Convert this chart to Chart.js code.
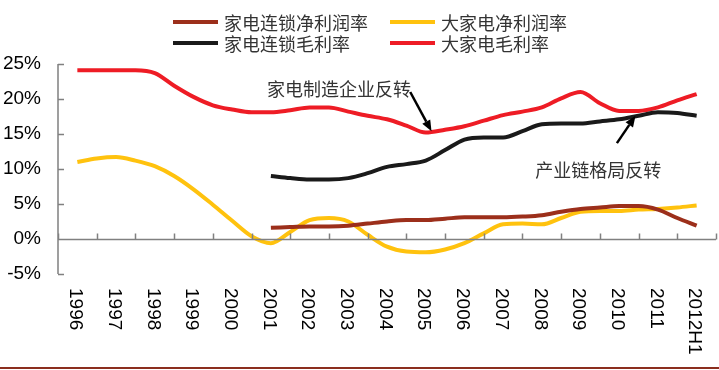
<!DOCTYPE html>
<html>
<head>
<meta charset="utf-8">
<script src="https://cdn.jsdelivr.net/npm/chart.js@4.4.1/dist/chart.umd.min.js"></script>
<style>
  html, body { margin: 0; padding: 0; background: #fff; }
  #wrap { width: 719px; height: 370px; position: relative; }
</style>
</head>
<body>
<div id="wrap"><canvas id="marginChart" width="719" height="370"></canvas></div>
<script>
// half-year periods, 1996 .. 2012H1
const periods = [1996, 1996.5, 1997, 1997.5, 1998, 1998.5, 1999, 1999.5, 2000, 2000.5,
    2001, 2001.5, 2002, 2002.5, 2003, 2003.5, 2004, 2004.5, 2005, 2005.5, 2006, 2006.5,
    2007, 2007.5, 2008, 2008.5, 2009, 2009.5, 2010, 2010.5, 2011, 2011.5, 2012];

const yearLabels = ['1996', '1997', '1998', '1999', '2000', '2001', '2002', '2003', '2004',
    '2005', '2006', '2007', '2008', '2009', '2010', '2011', '2012H1'];

// 家电连锁净利润率
const chainNet = [null, null, null, null, null, null, null, null, null, null,
    1.6, 1.7, 1.8, 1.8, 1.9, 2.2, 2.5, 2.7, 2.7, 2.9, 3.1, 3.1,
    3.1, 3.2, 3.4, 3.9, 4.3, 4.5, 4.7, 4.7, 4.2, 3.0, 1.9];
// 大家电净利润率
const applianceNet = [11.0, 11.5, 11.7, 11.2, 10.4, 9.0, 7.1, 4.9, 2.6, 0.4,
    -0.6, 1.0, 2.7, 3.0, 2.5, 0.6, -1.1, -1.8, -1.9, -1.5, -0.6, 0.8,
    2.1, 2.2, 2.1, 3.0, 3.9, 4.0, 4.0, 4.2, 4.3, 4.5, 4.8];
// 家电连锁毛利率
const chainGross = [null, null, null, null, null, null, null, null, null, null,
    9.0, 8.7, 8.5, 8.5, 8.7, 9.4, 10.3, 10.7, 11.2, 12.7, 14.2, 14.5,
    14.5, 15.4, 16.4, 16.5, 16.5, 16.8, 17.1, 17.6, 18.1, 18.0, 17.6];
// 大家电毛利率
const applianceGross = [24.1, 24.1, 24.1, 24.1, 23.7, 21.9, 20.3, 19.1, 18.5, 18.1,
    18.1, 18.4, 18.8, 18.8, 18.2, 17.6, 17.1, 16.2, 15.2, 15.6, 16.1, 16.9,
    17.7, 18.2, 18.8, 20.1, 21.0, 19.4, 18.3, 18.3, 18.8, 19.8, 20.7];

// callouts, in data coordinates (year, %)
const notes = [
    { text: '家电制造企业反转', at: [2000.9, 21.4], from: [2004.6, 21.0], to: [2005.15, 15.4] },
    { text: '产业链格局反转', at: [2007.83, 9.9], from: [2009.94, 13.7], to: [2010.42, 17.6] }
];

const toPoints = arr => periods.map((p, i) => ({ x: p, y: arr[i] }));

const cjkFont = '"Noto Sans CJK SC", "Noto Sans", sans-serif';
const numFont = '"Liberation Sans", Arial, sans-serif';
const axisColor = '#808080';

function series(label, values, color) {
    return {
        label: label,
        data: toPoints(values),
        borderColor: color,
        backgroundColor: color,
        borderWidth: 4,
        pointRadius: 0,
        fill: false,
        spanGaps: false,
        cubicInterpolationMode: 'monotone'
    };
}

const decorations = {
    id: 'decorations',
    afterDraw(chart) {
        const ctx = chart.ctx;
        const x = chart.scales.x, y = chart.scales.y;
        const area = chart.chartArea;
        ctx.save();

        // y axis + inward ticks
        ctx.strokeStyle = axisColor;
        ctx.lineWidth = 1.5;
        ctx.beginPath();
        ctx.moveTo(area.left, y.getPixelForValue(25));
        ctx.lineTo(area.left, y.getPixelForValue(-5));
        y.ticks.forEach(t => {
            const py = Math.round(y.getPixelForValue(t.value)) + 0.5;
            ctx.moveTo(area.left, py);
            ctx.lineTo(area.left + 6, py);
        });
        // x axis at 0% + inward ticks between years
        const y0 = Math.round(y.getPixelForValue(0)) + 0.5;
        ctx.moveTo(area.left, y0);
        ctx.lineTo(area.right, y0);
        for (let i = 0; i <= yearLabels.length; i++) {
            const px = Math.round(x.getPixelForValue(1995.5 + i)) + 0.5;
            ctx.moveTo(px, y0);
            ctx.lineTo(px, y0 - 6);
        }
        ctx.stroke();

        // rotated year labels, reading downward
        ctx.fillStyle = '#000';
        ctx.font = '19px ' + numFont;
        ctx.textAlign = 'left';
        ctx.textBaseline = 'middle';
        yearLabels.forEach((lab, i) => {
            ctx.save();
            ctx.translate(x.getPixelForValue(1996 + i) - 2, 288);
            ctx.rotate(Math.PI / 2);
            ctx.fillText(lab, 0, 0);
            ctx.restore();
        });

        // legend, 2 x 2
        const order = [0, 1, 2, 3];
        const colX = [173, 390], rowY = [22, 43];
        ctx.font = '18px ' + cjkFont;
        ctx.textBaseline = 'middle';
        order.forEach((di, k) => {
            const ds = chart.data.datasets[di];
            const lx = colX[k % 2], ly = rowY[Math.floor(k / 2)];
            ctx.strokeStyle = ds.borderColor;
            ctx.lineWidth = 4;
            ctx.beginPath();
            ctx.moveTo(lx, ly);
            ctx.lineTo(lx + 45, ly);
            ctx.stroke();
            ctx.fillStyle = '#333';
            ctx.fillText(ds.label, lx + 51, ly + 1);
        });

        // callouts with arrows
        notes.forEach(n => {
            ctx.fillStyle = '#333';
            ctx.font = '18px ' + cjkFont;
            ctx.textAlign = 'left';
            ctx.textBaseline = 'middle';
            ctx.fillText(n.text, x.getPixelForValue(n.at[0]), y.getPixelForValue(n.at[1]));

            const x1 = x.getPixelForValue(n.from[0]), y1 = y.getPixelForValue(n.from[1]);
            const x2 = x.getPixelForValue(n.to[0]), y2 = y.getPixelForValue(n.to[1]);
            const ang = Math.atan2(y2 - y1, x2 - x1);
            const head = 11, half = 4.5;
            const bx = x2 - head * Math.cos(ang), by = y2 - head * Math.sin(ang);
            ctx.strokeStyle = '#000';
            ctx.lineWidth = 2.5;
            ctx.beginPath();
            ctx.moveTo(x1, y1);
            ctx.lineTo(bx, by);
            ctx.stroke();
            ctx.fillStyle = '#000';
            ctx.beginPath();
            ctx.moveTo(x2, y2);
            ctx.lineTo(bx + half * Math.sin(ang), by - half * Math.cos(ang));
            ctx.lineTo(bx - half * Math.sin(ang), by + half * Math.cos(ang));
            ctx.closePath();
            ctx.fill();
        });

        // dark red rule along the bottom
        ctx.fillStyle = '#8B2E1E';
        ctx.fillRect(0, chart.height - 3, chart.width, 2);
        ctx.restore();
    }
};

const ctx = document.getElementById('marginChart').getContext('2d');
new Chart(ctx, {
    type: 'line',
    data: {
        datasets: [
            series('家电连锁净利润率', chainNet, '#9C2F1B'),
            series('大家电净利润率', applianceNet, '#FFC20E'),
            series('家电连锁毛利率', chainGross, '#1A1A1A'),
            series('大家电毛利率', applianceGross, '#EE1C25')
        ]
    },
    options: {
        responsive: false,
        animation: false,
        devicePixelRatio: 1,
        layout: { padding: { top: 64, right: 3, bottom: 96, left: 0 } },
        plugins: {
            legend: { display: false },
            tooltip: { enabled: false }
        },
        scales: {
            x: {
                type: 'linear',
                min: 1995.5,
                max: 2012.5,
                display: false
            },
            y: {
                min: -5,
                max: 25,
                grid: { display: false, drawTicks: false },
                border: { display: false },
                ticks: {
                    stepSize: 5,
                    padding: 17,
                    color: '#000',
                    font: { family: numFont, size: 19 },
                    callback: v => v + '%'
                },
                afterFit: scale => { scale.width = 58; }
            }
        }
    },
    plugins: [decorations]
});
</script>
</body>
</html>
